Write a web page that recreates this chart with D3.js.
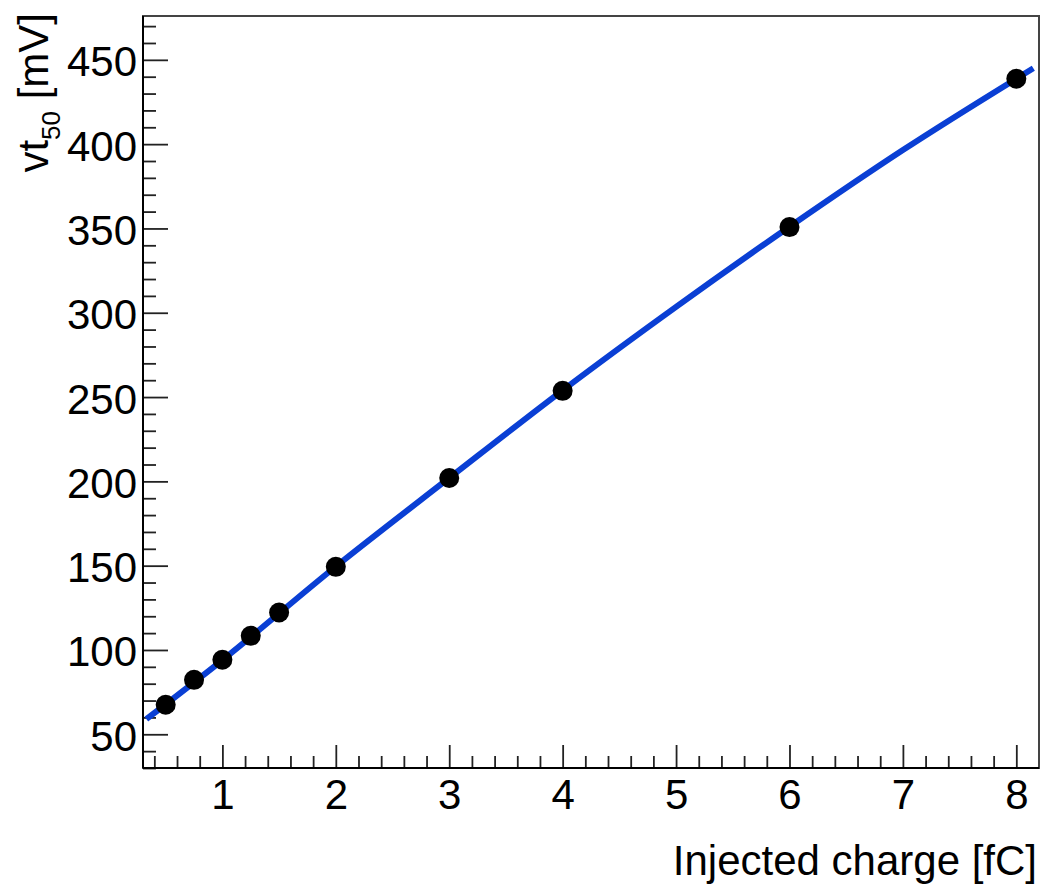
<!DOCTYPE html>
<html>
<head>
<meta charset="utf-8">
<script src="https://cdn.jsdelivr.net/npm/d3@7"></script>
<style>
  body { margin: 0; background: #fff; }
  svg text { font-family: "Liberation Sans", Arial, sans-serif; fill: #000; }
</style>
</head>
<body>
<svg id="chart" width="1052" height="888"></svg>
<script>
// measured points
let charge = [0.5, 0.75, 1, 1.25, 1.5, 2, 3, 4, 6, 8];
let vt50 = [67.5, 82.3, 94.2, 108.4, 122.2, 149.3, 202.0, 253.7, 350.8, 438.8];

// fit curve
let fitX = [0.33, 1, 2, 3, 4, 5, 6, 7, 8.15];
let fitY = [59, 94, 149.5, 202, 254, 303.5, 351, 396.5, 445];

let xTicks = [1, 2, 3, 4, 5, 6, 7, 8];
let yTicks = [50, 100, 150, 200, 250, 300, 350, 400, 450];

//frame edges
let fLeft = 143, fTop = 16, fRight = 1039, fBottom = 768;

let svg = d3.select("#chart");

let x = d3.scaleLinear().domain([0.3, 8.2]).range([fLeft, fRight]);
let y = d3.scaleLinear().domain([30, 476]).range([fBottom, fTop]);

let xMinor = d3.range(0.4, 8.2, 0.2).filter(v => Math.abs(v - Math.round(v)) > 0.01);
let yMinor = d3.range(30, 477, 10).filter(v => v % 50 != 0);

//minor ticks first
svg.append("g")
    .attr("transform", `translate(0,${fBottom})`)
    .call(d3.axisBottom(x).tickValues(xMinor).tickSize(-12).tickSizeOuter(0).tickFormat(""))
    .call(g => g.select(".domain").remove());

svg.append("g")
    .attr("transform", `translate(${fLeft},0)`)
    .call(d3.axisLeft(y).tickValues(yMinor).tickSize(-13).tickSizeOuter(0).tickFormat(""))
    .call(g => g.select(".domain").remove());

//major ticks + labels
let xAxis = svg.append("g")
    .attr("transform", `translate(0,${fBottom})`)
    .call(d3.axisBottom(x).tickValues(xTicks).tickSize(-23).tickSizeOuter(0).tickPadding(11).tickFormat(d3.format("d")));
xAxis.select(".domain").remove();
xAxis.attr("font-family", null).attr("font-size", null);
xAxis.selectAll("text").style("font-size", "42px");

let yAxis = svg.append("g")
    .attr("transform", `translate(${fLeft},0)`)
    .call(d3.axisLeft(y).tickValues(yTicks).tickSize(-25).tickSizeOuter(0).tickPadding(6).tickFormat(d3.format("d")));
yAxis.select(".domain").remove();
yAxis.attr("font-family", null).attr("font-size", null);
yAxis.selectAll("text").style("font-size", "42px").attr("dy", "0.38em");

svg.selectAll(".tick line").attr("stroke", "#222").attr("stroke-width", 1.8);

//frame
svg.append("rect")
    .attr("x", fLeft).attr("y", fTop)
    .attr("width", fRight - fLeft).attr("height", fBottom - fTop)
    .attr("fill", "none")
    .attr("stroke", "#444")
    .attr("stroke-width", 2);

svg.append("line")
    .attr("x1", fLeft).attr("x2", fRight).attr("y1", fBottom).attr("y2", fBottom)
    .attr("stroke", "#000").attr("stroke-width", 2);
svg.append("line")
    .attr("x1", fLeft).attr("x2", fLeft).attr("y1", fTop).attr("y2", fBottom)
    .attr("stroke", "#000").attr("stroke-width", 2);

svg.append("clipPath").attr("id", "clip")
    .append("rect")
    .attr("x", fLeft).attr("y", fTop)
    .attr("width", fRight - fLeft).attr("height", fBottom - fTop);

//fit line
let line = d3.line()
    .x((d, i) => x(fitX[i]))
    .y(d => y(d))
    .curve(d3.curveMonotoneX);

svg.append("path")
    .datum(fitY)
    .attr("clip-path", "url(#clip)")
    .attr("d", line)
    .attr("fill", "none")
    .attr("stroke", "#0a3fd4")
    .attr("stroke-width", 6);

//points
svg.append("g")
    .selectAll("circle")
    .data(charge)
    .enter()
    .append("circle")
    .attr("cx", d => x(d))
    .attr("cy", (d, i) => y(vt50[i]))
    .attr("r", 10)
    .attr("fill", "#000");

//axis titles
svg.append("text")
    .attr("x", 1037)
    .attr("y", 875)
    .attr("text-anchor", "end")
    .style("font-size", "42px")
    .text("Injected charge [fC]");

let ylab = svg.append("text")
    .attr("transform", "translate(48,13) rotate(-90)")
    .attr("text-anchor", "end")
    .style("font-size", "42px");
ylab.append("tspan").text("vt");
ylab.append("tspan").attr("dy", 12).style("font-size", "26px").text("50");
ylab.append("tspan").attr("dy", -12).text(" [mV]");
</script>
</body>
</html>
